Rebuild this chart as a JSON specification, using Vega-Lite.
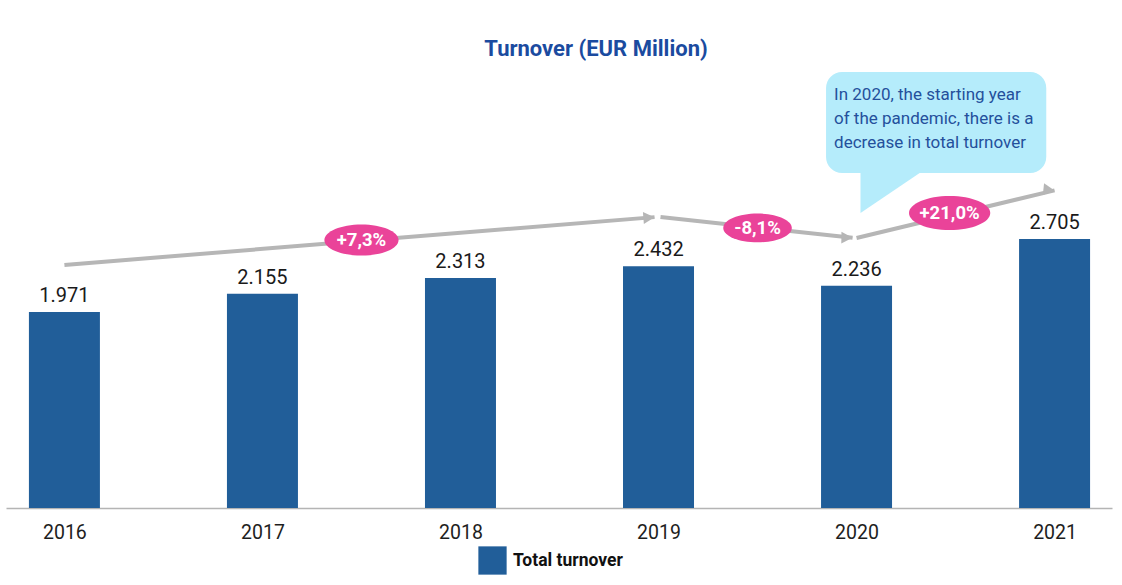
{
  "$schema": "https://vega.github.io/schema/vega-lite/v6.json",
  "width": 1106,
  "height": 438,
  "autosize": {"type": "none"},
  "padding": {"left": 6, "top": 70, "right": 10, "bottom": 77},
  "background": "white",
  "title": {
    "text": "Turnover (EUR Million)",
    "anchor": "middle",
    "dx": 37,
    "offset": 9,
    "font": "Roboto",
    "fontSize": 22,
    "fontWeight": "bold",
    "color": "#1b4b9f"
  },
  "datasets": {
    "turnover": [
      {"year": 2016, "value": 1971, "series": "Total turnover"},
      {"year": 2017, "value": 2155, "series": "Total turnover"},
      {"year": 2018, "value": 2313, "series": "Total turnover"},
      {"year": 2019, "value": 2432, "series": "Total turnover"},
      {"year": 2020, "value": 2236, "series": "Total turnover"},
      {"year": 2021, "value": 2705, "series": "Total turnover"}
    ],
    "trend": [
      {"seg": "a", "role": "start", "year": 2016, "level": 2445},
      {"seg": "a", "role": "end", "year": 2018.98, "level": 2926},
      {"seg": "b", "role": "start", "year": 2019.01, "level": 2928},
      {"seg": "b", "role": "end", "year": 2019.98, "level": 2718},
      {"seg": "c", "role": "start", "year": 2020, "level": 2716},
      {"seg": "c", "role": "end", "year": 2021, "level": 3195}
    ],
    "growth": [
      {"mid": 2017.5, "level": 2696, "label": "+7,3%"},
      {"mid": 2019.5, "level": 2817, "label": "-8,1%"},
      {"mid": 2020.47, "level": 2968, "label": "+21,0%"}
    ],
    "note": [
      {"x": 2019.846, "x2": 2020.958, "top": 4386, "bottom": 3370,
       "text": "In 2020, the starting year\nof the pandemic, there is a\ndecrease in total turnover"}
    ],
    "pointer": [
      {"x": 2020.02, "tip": 2968, "base": 3385},
      {"x": 2020.33, "tip": 3385, "base": 3385}
    ]
  },
  "layer": [
    {
      "data": {"name": "turnover"},
      "mark": {"type": "bar", "orient": "vertical", "size": 71},
      "encoding": {
        "x": {
          "field": "year", "type": "quantitative",
          "scale": {"domain": [2015.705, 2021.29], "nice": false, "zero": false, "padding": 0},
          "axis": {
            "values": [2016, 2017, 2018, 2019, 2020, 2021],
            "format": "d", "title": null, "ticks": false, "grid": false,
            "domainColor": "#b4b4b4", "domainWidth": 1.5,
            "labelFont": "Roboto", "labelFontSize": 19.5, "labelColor": "#1e1e1e",
            "labelPadding": 15
          }
        },
        "y": {
          "field": "value", "type": "quantitative", "stack": null,
          "scale": {"domain": [0, 4406], "nice": false, "padding": 0},
          "axis": null
        },
        "color": {
          "field": "series", "type": "nominal",
          "scale": {"range": ["#215e99"]},
          "legend": {
            "title": null, "orient": "none", "legendX": 472, "legendY": 476,
            "symbolType": "square", "symbolSize": 800, "symbolStrokeWidth": 0,
            "labelFont": "Roboto", "labelFontSize": 17.5, "labelFontWeight": "bold",
            "labelColor": "#111111", "labelOffset": 6
          }
        }
      }
    },
    {
      "data": {"name": "turnover"},
      "mark": {"type": "text", "baseline": "bottom", "dy": -6, "font": "Roboto", "fontSize": 20, "color": "#1a1a1a"},
      "encoding": {
        "x": {"field": "year", "type": "quantitative"},
        "y": {"field": "value", "type": "quantitative"},
        "text": {"field": "value", "type": "quantitative", "format": ",d"}
      }
    },
    {
      "data": {"name": "trend"},
      "mark": {"type": "line", "color": "#b6b6b6", "strokeWidth": 4},
      "encoding": {
        "x": {"field": "year", "type": "quantitative"},
        "y": {"field": "level", "type": "quantitative"},
        "detail": {"field": "seg"}
      }
    },
    {
      "data": {"name": "trend"},
      "transform": [{"filter": "datum.role === 'end'"}],
      "mark": {"type": "point", "shape": "M 0 0 L -1.6 -0.85 L -1.6 0.85 Z", "filled": true, "color": "#b6b6b6", "opacity": 1, "size": 196},
      "encoding": {
        "x": {"field": "year", "type": "quantitative"},
        "y": {"field": "level", "type": "quantitative"},
        "angle": {"field": "seg", "type": "ordinal", "scale": {"domain": ["a", "b", "c"], "range": [-4.6, 6.1, -13.6]}, "legend": null}
      }
    },
    {
      "data": {"name": "pointer"},
      "mark": {"type": "area", "color": "#b5ecfb", "opacity": 1},
      "encoding": {
        "x": {"field": "x", "type": "quantitative"},
        "y": {"field": "tip", "type": "quantitative"},
        "y2": {"field": "base"}
      }
    },
    {
      "data": {"name": "note"},
      "mark": {"type": "rect", "color": "#b5ecfb", "cornerRadius": 16},
      "encoding": {
        "x": {"field": "x", "type": "quantitative"},
        "x2": {"field": "x2"},
        "y": {"field": "top", "type": "quantitative"},
        "y2": {"field": "bottom"}
      }
    },
    {
      "data": {"name": "note"},
      "mark": {"type": "text", "align": "left", "baseline": "top", "dx": 8, "dy": 15, "lineBreak": "\n", "lineHeight": 24, "font": "Roboto", "fontSize": 17, "color": "#24509c"},
      "encoding": {
        "x": {"field": "x", "type": "quantitative"},
        "y": {"field": "top", "type": "quantitative"},
        "text": {"field": "text"}
      }
    },
    {
      "data": {"name": "growth"},
      "mark": {"type": "point", "shape": "M -1 0 A 1 0.42 0 1 0 1 0 A 1 0.42 0 1 0 -1 0 Z", "filled": true, "color": "#ea4399", "opacity": 1},
      "encoding": {
        "x": {"field": "mid", "type": "quantitative"},
        "y": {"field": "level", "type": "quantitative"},
        "size": {"field": "label", "type": "nominal", "scale": {"type": "ordinal", "domain": ["+7,3%", "-8,1%", "+21,0%"], "range": [5500, 4700, 6600]}, "legend": null}
      }
    },
    {
      "data": {"name": "growth"},
      "mark": {"type": "text", "baseline": "middle", "font": "Roboto", "fontSize": 18.5, "fontWeight": "bold", "color": "white"},
      "encoding": {
        "x": {"field": "mid", "type": "quantitative"},
        "y": {"field": "level", "type": "quantitative"},
        "text": {"field": "label"}
      }
    }
  ],
  "config": {
    "view": {"stroke": null},
    "locale": {
      "number": {"decimal": ",", "thousands": ".", "grouping": [3], "currency": ["", " €"]}
    }
  }
}
